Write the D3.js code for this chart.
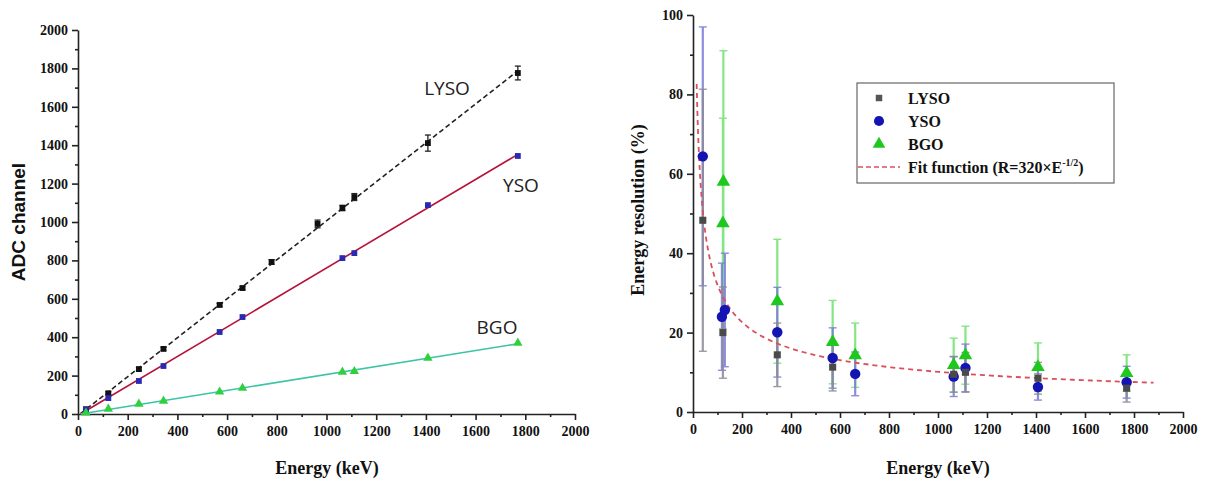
<!DOCTYPE html>
<html><head><meta charset="utf-8">
<script src="https://cdn.jsdelivr.net/npm/d3@7"></script>
<style>
html,body{margin:0;padding:0;background:#fff;}
</style></head>
<body><svg id="c" width="1210" height="481"></svg>
<script>
// ---------- Left chart data (ADC channel vs energy) ----------
const lysoEnergy = [32, 122, 245, 344, 570, 662, 779, 964, 1064, 1112, 1408, 1770];
const lysoADC    = [25, 108, 234, 339, 568, 656, 792, 990, 1073, 1130, 1411, 1776];
const lysoADCErr = [6, 8, 8, 8, 8, 8, 12, 20, 14, 18, 42, 36];
const ysoEnergy  = [32, 122, 245, 344, 570, 662, 1064, 1112, 1408, 1770];
const ysoADC     = [22, 83, 172, 250, 427, 505, 812, 838, 1088, 1344];
const bgoEnergy  = [32, 122, 245, 344, 570, 662, 1064, 1112, 1408, 1770];
const bgoADC     = [6, 26, 52, 68, 115, 135, 219, 222, 292, 370];
const leftXTicks = [0, 200, 400, 600, 800, 1000, 1200, 1400, 1600, 1800, 2000];
const leftYTicks = [0, 200, 400, 600, 800, 1000, 1200, 1400, 1600, 1800, 2000];

// ---------- Right chart data (energy resolution vs energy) ----------
const resLYSOEnergy = [40, 122, 344, 570, 1064, 1112, 1408, 1770];
const resLYSO       = [48.3, 20, 14.4, 11.3, 9.5, 10, 8.5, 6];
const resLYSOErr    = [33, 11.5, 8, 6, 4.5, 5, 4, 3.5];
const resYSOEnergy  = [40, 118, 130, 344, 570, 662, 1064, 1112, 1408, 1770];
const resYSO        = [64.4, 24, 25.7, 20.1, 13.6, 9.6, 8.9, 11.1, 6.3, 7.5];
const resYSOErr     = [32.6, 13.5, 14.3, 11.3, 7.6, 5.5, 5, 6, 3.3, 4];
const resBGOEnergy  = [122, 124, 344, 570, 662, 1064, 1112, 1408, 1770];
const resBGO        = [47.5, 58, 27.9, 17.6, 14.3, 11.8, 14.3, 11.3, 9.8];
const resBGOErr     = [26.5, 33, 15.6, 10.5, 8.1, 6.8, 7.3, 6.1, 4.6];
const fitCoef = 320, fitEmin = 15, fitEmax = 1880;
const rightXTicks = [0, 200, 400, 600, 800, 1000, 1200, 1400, 1600, 1800, 2000];
const rightYTicks = [0, 20, 40, 60, 80, 100];
const legendLabels = ["LYSO", "YSO", "BGO"];

const SERIF = '"Liberation Serif","Times New Roman",serif';
const svg = d3.select("#c");

function axes(g, x, y, xTicks, yTicks, xMinor, yMinor) {
  const fmt = d3.format("d");
  const xa = d3.axisBottom(x).tickValues(xTicks).tickFormat(fmt).tickSize(6).tickSizeOuter(0).tickPadding(6);
  const ya = d3.axisLeft(y).tickValues(yTicks).tickFormat(fmt).tickSize(6).tickSizeOuter(0).tickPadding(4);
  const gx = g.append("g").attr("transform", `translate(0,${y.range()[0]})`).call(xa);
  const gy = g.append("g").attr("transform", `translate(${x.range()[0]},0)`).call(ya);
  gx.append("g").call(d3.axisBottom(x).tickValues(xMinor).tickSize(3).tickFormat("")).select(".domain").remove();
  gy.append("g").call(d3.axisLeft(y).tickValues(yMinor).tickSize(3).tickFormat("")).select(".domain").remove();
  [gx, gy].forEach(a => {
    a.selectAll("path,line").attr("stroke", "#222").attr("stroke-width", 1.6);
    a.selectAll("text").style("font-size", "14px").attr("fill", "#111")
      .style("font-family", SERIF).style("font-weight", "bold");
  });
  return {gx, gy};
}

function fitLine(xs, ys) {
  const n = xs.length, mx = d3.mean(xs), my = d3.mean(ys);
  let sxy = 0, sxx = 0;
  for (let i = 0; i < n; i++) { sxy += (xs[i]-mx)*(ys[i]-my); sxx += (xs[i]-mx)**2; }
  const b = sxy / sxx, a = my - b * mx;
  return e => a + b * e;
}

function serifText(sel, size) {
  return sel.style("font-family", SERIF).style("font-weight", "bold").style("font-size", size + "px").attr("fill", "#111");
}

// ================= LEFT CHART =================
{
  const x = d3.scaleLinear().domain([0, 2000]).range([78, 575]);
  const y = d3.scaleLinear().domain([0, 2000]).range([414, 30]);
  const g = svg.append("g");
  axes(g, x, y, leftXTicks, leftYTicks, d3.range(100, 2000, 200), d3.range(100, 2000, 200));

  const series = [
    {E: lysoEnergy, V: lysoADC, err: lysoADCErr, line: "#222", dash: "5,3", mark: "sq", fill: "#111"},
    {E: ysoEnergy, V: ysoADC, err: null, line: "#b5133a", dash: null, mark: "sq", fill: "#2a2ab0"},
    {E: bgoEnergy, V: bgoADC, err: null, line: "#3cc4a6", dash: null, mark: "tri", fill: "#2fd040"}
  ];
  series.forEach(s => {
    const f = fitLine(s.E, s.V);
    const e0 = 10, e1 = d3.max(s.E);
    g.append("line").attr("x1", x(e0)).attr("y1", y(Math.max(0, f(e0))))
      .attr("x2", x(e1)).attr("y2", y(f(e1)))
      .attr("stroke", s.line).attr("stroke-width", 1.6)
      .attr("stroke-dasharray", s.dash);
  });
  series.forEach(s => {
    const pts = s.E.map((e, i) => ({e, v: s.V[i], er: s.err ? s.err[i] : 0}));
    if (s.err) {
      const eb = g.append("g").attr("stroke", "#222").attr("stroke-width", 1.3);
      pts.forEach(p => {
        eb.append("line").attr("x1", x(p.e)).attr("x2", x(p.e)).attr("y1", y(p.v - p.er)).attr("y2", y(p.v + p.er));
        [p.v - p.er, p.v + p.er].forEach(v => eb.append("line").attr("x1", x(p.e) - 3).attr("x2", x(p.e) + 3).attr("y1", y(v)).attr("y2", y(v)));
      });
    }
    const sym = d3.symbol().type(s.mark === "sq" ? d3.symbolSquare : d3.symbolTriangle).size(s.mark === "sq" ? 34 : 38);
    g.selectAll(null).data(pts).join("path").attr("d", sym)
      .attr("transform", p => `translate(${x(p.e)},${y(p.v)})`).attr("fill", s.fill);
  });
  const lab = (t, px, py) => g.append("text").text(t).attr("x", px).attr("y", py)
    .attr("text-anchor", "middle").style("font-family", '"Open Sans","DejaVu Sans",sans-serif')
    .style("font-weight", "normal").style("font-size", "19px").attr("fill", "#222");
  lab("LYSO", 447, 95); lab("YSO", 521, 192); lab("BGO", 497, 334);

  serifText(g.append("text").text("Energy (keV)").attr("x", 327).attr("y", 474).attr("text-anchor", "middle"), 18);
  g.append("text").text("ADC channel").attr("transform", "translate(25,222) rotate(-90)")
    .attr("text-anchor", "middle").style("font-family", '"Liberation Sans",Arial,sans-serif')
    .style("font-weight", "bold").style("font-size", "19px").attr("fill", "#111");
}

// ================= RIGHT CHART =================
{
  const x = d3.scaleLinear().domain([0, 2000]).range([693, 1183]);
  const y = d3.scaleLinear().domain([0, 100]).range([412, 15]);
  const g = svg.append("g");
  axes(g, x, y, rightXTicks, rightYTicks, d3.range(100, 2000, 200), d3.range(10, 100, 20));

  // fit function R = 320 * E^(-1/2), as stated in the legend
  const fitPts = d3.range(0, 201).map(i => {
    const e = fitEmin * Math.pow(fitEmax / fitEmin, i / 200);
    return [e, fitCoef / Math.sqrt(e)];
  });
  const series = [
    {E: resBGOEnergy, V: resBGO, err: resBGOErr, ec: "#6fe26f", type: d3.symbolTriangle, size: 80, fill: "#1fc81f"},
    {E: resYSOEnergy, V: resYSO, err: resYSOErr, ec: "#7a7ad8", type: d3.symbolCircle, size: 85, fill: "#1414b4"},
    {E: resLYSOEnergy, V: resLYSO, err: resLYSOErr, ec: "#8a8a9a", type: d3.symbolSquare, size: 50, fill: "#4a4a4a"}
  ];
  series.forEach(s => {
    const eb = g.append("g").attr("stroke", s.ec).attr("stroke-width", 2.2).attr("opacity", 0.85);
    s.E.forEach((e, i) => {
      const lo = s.V[i] - s.err[i], hi = s.V[i] + s.err[i];
      eb.append("line").attr("x1", x(e)).attr("x2", x(e)).attr("y1", y(lo)).attr("y2", y(hi));
      [lo, hi].forEach(v => eb.append("line").attr("x1", x(e) - 4).attr("x2", x(e) + 4).attr("y1", y(v)).attr("y2", y(v)).attr("stroke-width", 1.4));
    });
  });
  g.append("path").datum(fitPts)
    .attr("d", d3.line().x(d => x(d[0])).y(d => y(d[1])))
    .attr("fill", "none").attr("stroke", "#d9505a").attr("stroke-width", 1.8).attr("stroke-dasharray", "5,4");
  series.forEach(s => {
    const sym = d3.symbol().type(s.type).size(s.size);
    g.selectAll(null).data(s.E.map((e, i) => [e, s.V[i]])).join("path").attr("d", sym)
      .attr("transform", d => `translate(${x(d[0])},${y(d[1])})`).attr("fill", s.fill);
  });

  // legend
  const lg = g.append("g").attr("transform", "translate(857,83)");
  lg.append("rect").attr("width", 257).attr("height", 100).attr("fill", "#fff")
    .attr("stroke", "#666").attr("stroke-width", 1.2);
  const legSyms = [
    {t: d3.symbolSquare, s: 42, f: "#555"},
    {t: d3.symbolCircle, s: 80, f: "#1414b4"},
    {t: d3.symbolTriangle, s: 70, f: "#1fc81f"}
  ];
  legendLabels.forEach((l, i) => {
    const yy = 15 + i * 23;
    lg.append("path").attr("d", d3.symbol().type(legSyms[i].t).size(legSyms[i].s)())
      .attr("transform", `translate(22,${yy})`).attr("fill", legSyms[i].f);
    serifText(lg.append("text").text(l).attr("x", 51).attr("y", yy + 5.5), 16);
  });
  const yy = 15 + 3 * 23;
  lg.append("line").attr("x1", 1).attr("x2", 43).attr("y1", yy).attr("y2", yy)
    .attr("stroke", "#d9505a").attr("stroke-width", 1.6).attr("stroke-dasharray", "5,3");
  const ft = serifText(lg.append("text").attr("x", 51).attr("y", yy + 5.5), 16);
  ft.append("tspan").text("Fit function (R=320×E");
  ft.append("tspan").text("-1/2").style("font-size", "10px").attr("dy", -7);
  ft.append("tspan").text(")").attr("dy", 7);

  serifText(g.append("text").text("Energy (keV)").attr("x", 938).attr("y", 474).attr("text-anchor", "middle"), 18);
  serifText(g.append("text").text("Energy resolution (%)").attr("transform", "translate(644,210) rotate(-90)")
    .attr("text-anchor", "middle"), 18);
}
</script></body></html>
